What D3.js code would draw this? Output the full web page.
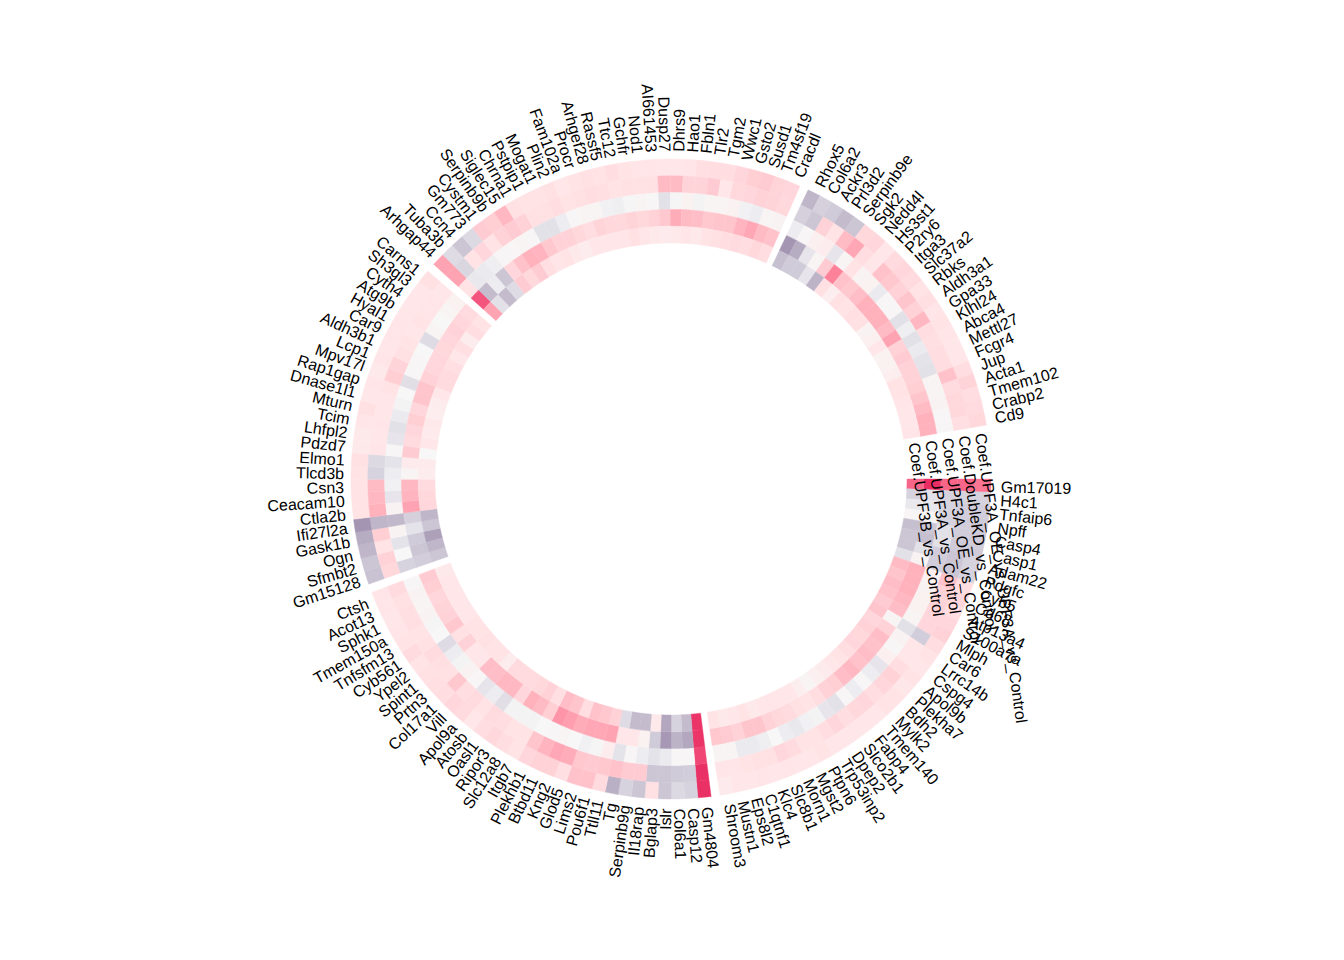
<!DOCTYPE html>
<meta charset="utf-8">
<head>
    <title>Circular heatmap</title>
    <style>
        body { margin: 0; background: white; }
        text { font-family: "Liberation Sans", Arial, sans-serif; font-size: 16px; fill: black; }
    </style>
</head>
<div id="graph_div"></div>
<script src="https://d3js.org/d3.v7.min.js"></script>
<script>
    // gene names per cluster, clockwise from 3 o'clock
    var genesA = ["Gm17019","H4c1","Tnfaip6","Npff","Casp4","Casp1","Adam22","Pdgfc","Cyb5","Cd68","Atp13a4","S100a7a","Mlph","Car6","Lrrc14b","Cspg4","Apol9b","Plekha7","Bdh2","Mylk2","Tmem140","Fabp4","Slco2b1","Dpep2","Trp53inp2","Ptpn6","Mgst2","Morn1","Slc8b1","Klc4","C1qtnf1","Eps8l2","Mustn1","Shroom3"];
    var genesB = ["Gm4804","Casp12","Col6a1","Islr","Bglap3","Il18rap","Serpinb9g","Tg","Ttll11","Pou6f1","Lims2","Glod5","Kng2","Btbd11","Plekhb1","Itgb7","Slc12a8","Ripor3","Oasl1","Atosb","Apol9a","Vill","Col17a1","Prtn3","Spint1","Ypel2","Cyb561","Tnfsfm13","Tmem150a","Sphk1","Acot13","Ctsh"];
    var genesC = ["Gm15128","Sfmbt2","Ogn","Gask1b","Ifi27l2a","Ctla2b","Ceacam10","Csn3","Tlcd3b","Elmo1","Pdzd7","Lhfpl2","Tcim","Mturn","Dnase1l1","Rap1gap","Mpv17l","Lcp1","Aldh3b1","Car9","Hyal1","Atg9b","Cyth4","Sh3gl3","Carns1"];
    var genesD = ["Arhgap44","Tuba3b","Ccn4","Gm773","Cystm1","Serpinb9b","Siglec15","Chrna1","Pstpip1","Mogat1","Plin2","Fam102a","Procr","Arhgef28","Rassf5","Ttc12","Gchfr","Nod1","AI661453","Dusp27","Dhrs9","Hao1","Fbln1","Tlr2","Tgm2","Wwc1","Gsto2","Susd1","Tm4sf19","Cracdl"];
    var genesE = ["Rhox5","Col6a2","Ackr3","Prl3d2","Serpinb9e","Sgk2","Nedd4l","Hs3st1","P2ry6","Itga3","Slc37a2","Rbks","Aldh3a1","Gpa33","Klhl24","Abca4","Mettl27","Fcgr4","Jup","Acta1","Tmem102","Crabp2","Cd9"];

    // tracks, outer to inner
    var trackNames = ["Coef.UPF3A_OE_vs_UPF3A_vs_Control","Coef.DoubleKD_vs_Control","Coef.UPF3A_OE_vs_Control","Coef.UPF3A_vs_Control","Coef.UPF3B_vs_Control"];

    // values, one list per track and cluster
    var track1A = [4.2,-1.5,-1.7,-1.8,-1.8,-1.8,-1.5,-1.5,1.5,1.8,1.5,1.8,2,1.5,1.2,1,1.2,1,1.2,1.2,1,1,1,1,1,1.2,1,1,1.1,1,1.1,1,1,.8];
    var track2A = [4.5,-1.5,-1.7,-1.7,-1.7,-1.8,-2,-2,2.5,2,2,1.8,1.8,-1.7,1,1,1.5,2,1.8,1.5,1.8,1.7,1.5,1.8,1.5,1.2,1.2,1.6,1.8,1.3,1.3,1.2,1.1,1.1];
    var track3A = [4.5,-1.5,-1.5,-1.5,-1,-1,-1.7,-1.7,.5,.3,.4,.4,.2,-1,.3,.1,.5,-.8,-.5,.1,-.5,.1,-1,-.8,-.2,-.3,-.7,-.5,0,-.4,-.6,-.6,.2,.2];
    var track4A = [5.8,-1,-.7,.2,-2,-2.2,-1,.3,3,3,3,2.8,2.6,.2,2,2.6,2.5,2.6,2.5,2.8,2.6,2.1,2,1.5,1.2,1.3,1.6,1.7,2,2.4,2.4,2,2.2,2.3];
    var track5A = [4.5,-1.5,-.7,.1,-2.2,-2,-2,-1,2.7,2.4,2.6,2.5,2.2,2.4,1.8,2,1.7,1.8,1.5,1.2,1,.8,.5,.2,.6,1,1,1.1,1,.9,1.2,1,.9,1.2];

    var track1B = [5.7,-1.5,-1.3,-2,1.3,-2,-1.5,-2.7,1.6,2.5,2.5,1.4,2,2,1.8,1.2,1.5,1.7,1.5,1,1.6,1.8,1.5,1.4,1.3,1.2,1.6,1.2,1.1,1,1.1,1.1];
    var track2B = [5.7,-1.7,-1.8,-2,-2,2.2,2.2,2.5,2.3,2.2,2.3,3.1,3.2,2.9,2.4,1.2,1.2,1.5,1.6,1.2,1.6,1.5,2.3,1.3,1.4,1.6,1.3,1.2,1.4,1.4,1.3,1.6];
    var track3B = [5.1,.1,.1,-.6,-.9,-.5,.1,-.9,.7,-.1,-.3,0,.2,.1,0,-.2,-.2,-.2,-1.1,-.5,-.8,.1,.3,-.2,-.5,-1.2,0,-.1,.3,.2,.3,.1];
    var track4B = [5.6,-3,-2.6,-3.5,-1.8,.4,1,1,3.3,3.2,3.2,3.1,3.4,3.6,2.1,2.7,3,1.8,2.8,2.8,2.6,2.6,1,1,2,1.3,2.3,2,1.9,1.8,2.1,2.2];
    var track5B = [5.6,-2.3,-1.5,-3,.9,-2.3,-2.3,-1.2,2,2.3,2.5,1.5,2.4,2.6,1.4,2,1.7,1.6,1.6,1.6,.7,1.2,1.2,1.3,1.2,1.2,1,1,1,1,1,.9];

    var track1C = [-2.1,-2,-2.5,-2.8,-3.6,1.2,1.2,1.2,1.2,1.3,.9,.9,1.1,1.3,1,1.1,.9,1.1,1,1.1,1.1,1,1,1,1.3];
    var track2C = [1.7,2,1.2,2.1,-2.5,3,2.8,2.7,-1.5,-1.3,1.1,1,1.1,1,1,1.2,2.1,1.9,1.3,1.2,1,1.2,1.1,1.1,1];
    var track3C = [-1.5,0,-.9,.3,-2.4,.3,-.8,-.3,-.5,-.9,.1,-.8,-1,-.6,-.2,0,-1.1,.1,.1,0,-1.2,.2,0,.2,.4];
    var track4C = [-1.7,-2,-1.8,-.9,-1.6,3.3,2.9,2.8,.2,.8,2.2,1.6,1.8,2.1,1.8,2.4,2.4,2,1.8,1.8,1.7,1.8,2,1.8,1.6];
    var track5C = [-2,-2.5,-3.2,-2,-2.5,1.8,1.7,1.6,.7,.8,0,1,.8,.9,.6,.7,1,1.6,1.6,1.4,1,1.4,.7,1.5,1.2];

    var track1D = [3.3,-1.2,-2,-1.3,2.2,2.1,2.8,1.3,1.2,1.2,1.3,1,1.2,1.3,1.2,1.5,1.2,1.1,1.1,1,1,1.1,1.4,1.5,1.5,1.8,2.1,2.2,1.9,1.8];
    var track2D = [3.3,-1.4,1.2,1.8,1.2,2,2.2,2,1.3,1.3,1.5,1.2,1.3,1.5,1.4,1.2,1.3,1.3,1.3,2.7,2.7,1.9,1.9,2.2,1,1.7,1.8,2,1.9,1.7];
    var track3D = [1.2,-.7,-.6,-.4,.1,.1,.2,.1,-1,-1,-.5,.1,.2,.2,-.3,-.4,-.1,.2,.1,-1,-.1,.4,-.2,.2,.2,.4,-.3,-.5,.2,.3];
    var track4D = [4.8,-2.3,-.5,-2,1.8,2.5,3,2.9,2.3,2,2,1.7,1.5,1.9,1.7,1.7,1.9,1.7,2,2.3,3.1,2.7,2.6,2.3,2.4,2.4,2.9,3.2,2.7,2.5];
    var track5D = [3.3,-1,-2.3,-1.2,2.2,1.7,2.2,1.4,1.1,1.2,.9,.7,1,1,1,1.1,1.3,1.1,.9,.8,.9,1.1,.9,1.2,1.3,1.5,1.6,1.5,1.7,1.5];

    var track1E = [-2.5,-1.6,-1.8,-2.3,-2,1.7,1.8,1,1.6,1.8,1.6,1.2,1.4,1.1,1.2,1.1,1,1,1.5,1.9,1.5,1.6,1.7];
    var track2E = [-1.6,-2,2,1.2,2.7,3.2,1.5,1,2.5,2.3,2,2.4,2,2.8,1.5,1.4,1.5,1.5,2.5,1.6,1.7,1.7,1.4];
    var track3E = [-.5,.1,.5,.7,-.8,.2,1.2,.3,.4,-.6,.1,.1,-1,-.4,-1,-.6,-.9,-1,.2,.2,.3,.1,.1];
    var track4E = [-3.6,-2.8,-.8,.2,2.2,4,2.5,2.3,2.6,3,3,3,2.7,3.3,2,2.2,2,2,2.1,2.4,2.7,3,3];
    var track5E = [-2.2,-1.8,-1.8,-.8,-2.6,1.3,.6,1.3,1.2,1.4,1.3,.3,.5,1,.4,.4,.6,1.2,1.2,1.1,1,1,1.1];

    var clusters = [
        {genes: genesA, tracks: [track1A, track2A, track3A, track4A, track5A]},
        {genes: genesB, tracks: [track1B, track2B, track3B, track4B, track5B]},
        {genes: genesC, tracks: [track1C, track2C, track3C, track4C, track5C]},
        {genes: genesD, tracks: [track1D, track2D, track3D, track4D, track5D]},
        {genes: genesE, tracks: [track1E, track2E, track3E, track4E, track5E]}
    ];

    var width = 1344, height = 960,
        cx = 671, cy = 479,
        outerR = 320, innerR = 236,
        labelR = 328.5,
        smallGap = 1.6, lastGap = 9.7,   // degrees
        trackLabelAngle = 351.9;

    var root = d3.select("#graph_div")
      .append("svg")
        .attr("width", width)
        .attr("height", height);

    var svg = root.append("g")
        .attr("transform", "translate(" + cx + "," + cy + ")");

    // text sits a touch off the ring centre in the original
    var labels = root.append("g")
        .attr("transform", "translate(" + (cx + 1.5) + "," + (cy + 1.2) + ")");

    var color = d3.scaleLinear()
        .domain([-4, -3, -2, -1, 0, 1, 2, 3, 4, 5, 6])
        .range(["#9b8aab", "#b2a7be", "#cbc5d4", "#e3e1e8", "#f7f7f7", "#ffe7e9", "#ffd2d7", "#ffb1bc", "#fd8199", "#f04a77", "#e8265e"]);

    var r = d3.scaleBand()
        .domain(trackNames)
        .range([outerR, innerR]);

    var nGenes = d3.sum(clusters, function(c) { return c.genes.length; });
    var geneDeg = (360 - lastGap - smallGap * (clusters.length - 1)) / nGenes;

    // degrees clockwise from 3 o'clock -> radians clockwise from 12 o'clock for d3.arc
    function toArc(deg) { return (deg + 90) * Math.PI / 180; }

    var arc = d3.arc();
    var start = 0;
    clusters.forEach(function(c) {
        var a = d3.scaleBand()
            .domain(c.genes)
            .range([start, start + c.genes.length * geneDeg]);

        trackNames.forEach(function(name, t) {
            svg.append("g").selectAll("path")
                .data(c.genes)
                .enter()
                .append("path")
                  .attr("d", function(g) {
                      return arc({
                          innerRadius: r(name),
                          outerRadius: r(name) + r.bandwidth(),
                          startAngle: toArc(a(g)),
                          endAngle: toArc(a(g) + a.bandwidth())
                      });
                  })
                  .attr("fill", function(g, i) { return color(c.tracks[t][i]); })
                  .attr("stroke", function(g, i) { return color(c.tracks[t][i]); })
                  .attr("stroke-width", 0.4);
        });

        c.scale = a;
        start += c.genes.length * geneDeg + smallGap;
    });

    clusters.forEach(function(c) {
        labels.append("g").selectAll("text")
            .data(c.genes)
            .enter()
            .append("text")
              .attr("transform", function(g) {
                  var deg = c.scale(g) + c.scale.bandwidth() / 2;
                  var flip = deg > 90 && deg < 270;
                  return "rotate(" + deg + ") translate(" + labelR + ",0)" + (flip ? " rotate(180)" : "");
              })
              .attr("text-anchor", function(g) {
                  var deg = c.scale(g) + c.scale.bandwidth() / 2;
                  return deg > 90 && deg < 270 ? "end" : "start";
              })
              .attr("dominant-baseline", "central")
              .text(function(g) { return g; });
    });

    labels.append("g").selectAll("text")
        .data(trackNames)
        .enter()
        .append("text")
          .attr("transform", function(d) {
              return "rotate(" + trackLabelAngle + ") translate(" + (r(d) + r.bandwidth() / 2) + ",0) rotate(90)";
          })
          .attr("x", -3)
          .attr("dominant-baseline", "central")
          .text(function(d) { return d; });
</script>
